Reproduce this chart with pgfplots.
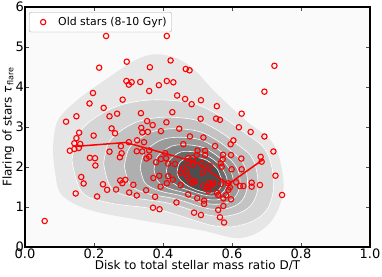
\documentclass[border=0pt]{standalone}
\usepackage{fontspec}
\setmainfont{DejaVu Sans}
\usepackage{pgfplots}
\pgfplotsset{compat=1.18}
\definecolor{lvA}{HTML}{E6E6E6}
\definecolor{lvB}{HTML}{D5D5D5}
\definecolor{lvC}{HTML}{C3C3C3}
\definecolor{lvD}{HTML}{AFAFAF}
\definecolor{lvE}{HTML}{9A9A9A}
\definecolor{lvF}{HTML}{838383}
\definecolor{lvG}{HTML}{6A6A6A}
\definecolor{lvH}{HTML}{4E4E4E}
\definecolor{bgc}{HTML}{FAFAFA}
\begin{document}
\begin{tikzpicture}
\begin{axis}[
  name=main, scale only axis, width=345pt, height=240pt,
  xmin=0, xmax=1, ymin=0, ymax=6,
  xtick={0,0.2,0.4,0.6,0.8,1}, ytick={0,1,2,3,4,5,6},
  axis on top,
  axis background/.style={fill=bgc},
  axis line style={line width=1.2pt, black},
  tick align=inside, major tick length=4pt,
  tick style={black!70, line width=0.9pt},
  /pgf/number format/assume math mode=true,
  ticklabel style={font=\fontsize{13}{15}\selectfont},
  xticklabel style={/pgf/number format/fixed, /pgf/number format/fixed zerofill, /pgf/number format/precision=1, inner ysep=2pt},
  yticklabel style={inner xsep=1pt},
  xlabel={Disk to total stellar mass ratio D/T},
  ylabel={Flaring of stars {\itshape τ}\textsubscript{flare}},
  label style={font=\fontsize{12}{14}\selectfont},
  xlabel style={at={(axis description cs:0.5,-0.0958)}, anchor=base},
  ylabel style={at={(axis description cs:-0.0391,0.5)}, anchor=base, rotate=0},
  legend style={at={(axis description cs:0.0116,0.979)}, anchor=north west,
    draw=black!35, fill=white, rounded corners=2pt,
    font=\fontsize{10.9}{13}\selectfont, inner xsep=3pt, inner ysep=3pt},
  legend cell align=left,
  legend image code/.code={\draw[#1] plot coordinates {(0pt,0pt)}; \path[draw=none, fill=none] (-11pt,-0.1pt) rectangle (13pt,0.1pt);},
]
% density contours
\addplot[fill=lvA, draw=none, smooth, tension=0.6, forget plot] coordinates {
(0.081,2.425) (0.093,3.125) (0.145,3.625) (0.232,4.175) (0.333,4.725) (0.406,4.800) (0.478,4.525) (0.551,3.875) (0.638,3.175) (0.716,2.625) (0.745,1.925) (0.745,1.225) (0.704,0.550) (0.623,0.225) (0.507,0.425) (0.333,0.675) (0.188,0.925) (0.107,1.300) (0.087,1.875) (0.081,2.425)};
\addplot[fill=lvB, draw=white, line width=0.6pt, smooth, tension=0.6, forget plot] coordinates {
(0.136,2.175) (0.154,2.800) (0.194,3.175) (0.261,3.500) (0.333,3.650) (0.406,3.675) (0.493,3.575) (0.571,3.250) (0.638,2.850) (0.693,2.475) (0.716,1.975) (0.719,1.375) (0.696,0.875) (0.638,0.575) (0.551,0.525) (0.391,0.925) (0.246,1.100) (0.165,1.375) (0.136,2.175)};
\addplot[fill=lvC, draw=white, line width=0.6pt, smooth, tension=0.6, forget plot] coordinates {
(0.228,2.085) (0.241,2.583) (0.273,2.875) (0.324,3.125) (0.380,3.230) (0.436,3.240) (0.502,3.155) (0.562,2.898) (0.613,2.580) (0.655,2.273) (0.672,1.878) (0.674,1.413) (0.653,1.025) (0.606,0.808) (0.538,0.788) (0.419,1.090) (0.312,1.243) (0.250,1.480) (0.228,2.085)};
\addplot[fill=lvD, draw=white, line width=0.6pt, smooth, tension=0.6, forget plot] coordinates {
(0.288,2.025) (0.300,2.438) (0.326,2.675) (0.367,2.875) (0.412,2.950) (0.457,2.950) (0.509,2.875) (0.557,2.663) (0.597,2.400) (0.629,2.138) (0.643,1.813) (0.643,1.438) (0.625,1.125) (0.586,0.963) (0.529,0.963) (0.438,1.200) (0.355,1.338) (0.306,1.550) (0.288,2.025)};
\addplot[fill=lvE, draw=white, line width=0.6pt, smooth, tension=0.6, forget plot] coordinates {
(0.334,1.980) (0.344,2.329) (0.366,2.525) (0.398,2.688) (0.435,2.740) (0.472,2.733) (0.514,2.665) (0.552,2.486) (0.585,2.265) (0.610,2.036) (0.622,1.764) (0.621,1.456) (0.603,1.200) (0.570,1.079) (0.522,1.094) (0.452,1.283) (0.388,1.409) (0.348,1.603) (0.334,1.980)};
\addplot[fill=lvF, draw=white, line width=0.6pt, smooth, tension=0.6, forget plot] coordinates {
(0.374,1.941) (0.382,2.235) (0.400,2.395) (0.426,2.525) (0.455,2.558) (0.485,2.544) (0.518,2.483) (0.548,2.334) (0.574,2.148) (0.593,1.949) (0.603,1.722) (0.601,1.473) (0.585,1.265) (0.556,1.180) (0.517,1.208) (0.464,1.354) (0.416,1.471) (0.385,1.648) (0.374,1.941)};
\addplot[fill=lvG, draw=white, line width=0.6pt, smooth, tension=0.6, forget plot] coordinates {
(0.410,1.905) (0.417,2.148) (0.432,2.275) (0.451,2.375) (0.474,2.390) (0.497,2.370) (0.521,2.315) (0.545,2.193) (0.565,2.040) (0.578,1.868) (0.586,1.683) (0.583,1.488) (0.568,1.325) (0.544,1.273) (0.512,1.313) (0.475,1.420) (0.442,1.528) (0.418,1.690) (0.410,1.905)};
\addplot[fill=lvH, draw=white, line width=0.6pt, smooth, tension=0.6, forget plot] coordinates {
(0.441,1.875) (0.446,2.075) (0.458,2.175) (0.473,2.250) (0.490,2.250) (0.507,2.225) (0.525,2.175) (0.542,2.075) (0.557,1.950) (0.565,1.800) (0.571,1.650) (0.568,1.500) (0.554,1.375) (0.533,1.350) (0.507,1.400) (0.484,1.475) (0.464,1.575) (0.446,1.725) (0.441,1.875)};
% old stars
\addplot[only marks, mark=o, mark size=2.7pt, red, line width=1.1pt] table[row sep=\\] {
x y\\
0.408 5.525\\ 0.411 5.275\\ 0.235 5.275\\ 0.422 4.663\\ 0.295 4.633\\ 0.215 4.483\\
0.362 4.493\\ 0.466 4.450\\ 0.477 4.418\\ 0.723 4.530\\ 0.294 4.150\\ 0.309 4.120\\
0.301 4.058\\ 0.334 4.125\\ 0.411 4.150\\ 0.430 4.118\\ 0.388 4.045\\ 0.360 3.900\\
0.197 3.850\\ 0.694 3.883\\ 0.441 3.788\\ 0.464 3.700\\ 0.283 3.683\\ 0.510 3.670\\
0.187 3.588\\ 0.483 3.570\\ 0.556 3.520\\ 0.228 3.478\\ 0.245 3.268\\ 0.267 3.333\\
0.336 3.345\\ 0.427 3.370\\ 0.628 3.333\\ 0.149 3.268\\ 0.119 3.133\\ 0.354 3.148\\
0.410 3.118\\ 0.370 3.048\\ 0.509 3.205\\ 0.554 3.210\\ 0.565 3.180\\ 0.620 2.993\\
0.337 2.978\\ 0.251 2.965\\ 0.261 2.843\\ 0.157 2.858\\ 0.199 2.785\\ 0.394 2.895\\
0.447 2.958\\ 0.340 2.865\\ 0.356 2.878\\ 0.478 2.765\\ 0.654 2.875\\ 0.325 2.668\\
0.149 2.720\\ 0.517 2.738\\ 0.604 2.665\\ 0.694 2.763\\ 0.345 2.620\\ 0.143 2.593\\
0.160 2.575\\ 0.156 2.475\\ 0.143 2.450\\ 0.130 2.408\\ 0.301 2.620\\ 0.278 2.520\\
0.245 2.383\\ 0.280 2.343\\ 0.324 2.395\\ 0.340 2.388\\ 0.360 2.415\\ 0.188 2.230\\
0.203 2.220\\ 0.204 2.038\\ 0.275 2.243\\ 0.352 2.213\\ 0.360 2.258\\ 0.459 2.570\\
0.596 2.570\\ 0.551 2.525\\ 0.406 2.350\\ 0.500 2.413\\ 0.522 2.405\\ 0.498 2.300\\
0.522 2.300\\ 0.574 2.305\\ 0.597 2.300\\ 0.627 2.210\\ 0.683 2.255\\ 0.720 2.388\\
0.473 2.223\\ 0.486 2.218\\ 0.380 2.118\\ 0.394 2.200\\ 0.409 2.218\\ 0.415 2.085\\
0.435 2.075\\ 0.473 2.108\\ 0.486 2.050\\ 0.512 2.093\\ 0.536 2.025\\ 0.573 2.193\\
0.567 2.093\\ 0.570 2.008\\ 0.686 2.133\\ 0.726 1.783\\ 0.599 1.943\\ 0.628 1.943\\
0.163 1.750\\ 0.170 1.588\\ 0.147 1.338\\ 0.209 1.263\\ 0.226 1.568\\ 0.238 1.430\\
0.264 1.438\\ 0.276 1.663\\ 0.282 1.595\\ 0.291 1.680\\ 0.314 1.555\\ 0.302 1.363\\
0.324 1.288\\ 0.351 1.418\\ 0.372 1.725\\ 0.377 1.255\\ 0.371 0.983\\ 0.390 0.945\\
0.389 1.780\\ 0.415 1.770\\ 0.428 1.683\\ 0.411 1.593\\ 0.393 1.508\\ 0.451 1.858\\
0.459 1.968\\ 0.467 1.883\\ 0.470 1.775\\ 0.515 1.858\\ 0.478 1.675\\ 0.493 1.650\\
0.486 1.608\\ 0.534 1.593\\ 0.541 1.550\\ 0.528 1.493\\ 0.546 1.608\\ 0.517 1.525\\
0.531 1.408\\ 0.589 1.593\\ 0.594 1.493\\ 0.590 1.425\\ 0.612 1.618\\ 0.623 1.525\\
0.633 1.525\\ 0.657 1.608\\ 0.657 1.508\\ 0.681 1.550\\ 0.451 1.550\\ 0.473 1.313\\
0.499 1.218\\ 0.519 1.158\\ 0.519 1.075\\ 0.556 1.358\\ 0.560 1.300\\ 0.575 1.218\\
0.583 1.293\\ 0.597 1.193\\ 0.575 1.025\\ 0.560 0.925\\ 0.439 1.113\\ 0.490 0.858\\
0.510 0.800\\ 0.565 0.743\\ 0.577 0.613\\ 0.745 1.300\\ 0.057 0.650\\ 0.568 1.575\\
};
\addlegendentry{Old stars (8-10 Gyr)}
% running median
\addplot[red, line width=1.5pt, forget plot] coordinates {
(0.143,2.513) (0.293,2.613) (0.493,2.125) (0.590,1.575) (0.691,2.193)};
\end{axis}
\pgfresetboundingbox
\path (main.south west) ++(-25pt,-29pt) rectangle ++(382pt,276pt);
\end{tikzpicture}
\end{document}
